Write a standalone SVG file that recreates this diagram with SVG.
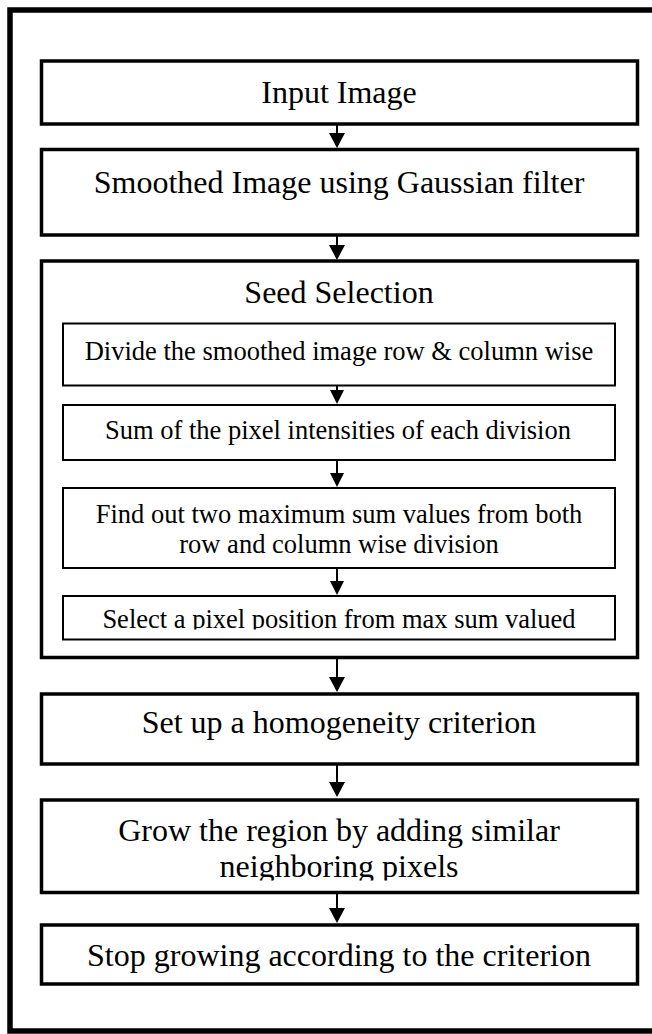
<svg xmlns="http://www.w3.org/2000/svg" width="652" height="1034" viewBox="0 0 652 1034">
<style>
.main{fill:#fff;stroke:#000;stroke-width:3.5}
.inner{fill:#fff;stroke:#000;stroke-width:2}
.t{font-family:"Liberation Serif","Times New Roman",serif;font-size:32px;fill:#000;text-anchor:middle}
.ti{font-family:"Liberation Serif","Times New Roman",serif;font-size:26.5px;fill:#000;text-anchor:middle}
.c{stroke:#000;stroke-width:2;fill:none}
</style>
<defs>
<clipPath id="clipSel"><rect x="63" y="596" width="552" height="33.5"/></clipPath>
<clipPath id="clipGrow"><rect x="41" y="800" width="596" height="80.5"/></clipPath>
</defs>
<rect width="652" height="1034" fill="#fff"/>
<path d="M660,10 H10 V1031 H660" fill="none" stroke="#000" stroke-width="5.5"/>

<g id="n1">
<rect class="main" x="41.5" y="61" width="596" height="63"/>
<text class="t" x="339" y="103">Input Image</text>
</g>
<g id="n2">
<rect class="main" x="41.5" y="149.5" width="596" height="85.5"/>
<text class="t" x="339" y="193">Smoothed Image using Gaussian filter</text>
</g>
<g id="n3">
<rect class="main" x="41.5" y="261" width="596" height="396.5"/>
<text class="t" x="339" y="303">Seed Selection</text>
</g>
<g id="n3a">
<rect class="inner" x="63" y="323.5" width="552" height="62"/>
<text class="ti" x="339" y="360">Divide the smoothed image row &amp; column wise</text>
</g>
<g id="n3b">
<rect class="inner" x="63" y="405" width="552" height="55"/>
<text class="ti" x="338" y="439">Sum of the pixel intensities of each division</text>
</g>
<g id="n3c">
<rect class="inner" x="63" y="488" width="552" height="80"/>
<text class="ti" x="339" y="523">Find out two maximum sum values from both<tspan x="339" dy="30">row and column wise division</tspan></text>
</g>
<g id="n3d">
<rect class="inner" x="63" y="596" width="552" height="43.5"/>
<text class="ti" x="339" y="628" clip-path="url(#clipSel)">Select a pixel position from max sum valued</text>
</g>
<g id="n4">
<rect class="main" x="41.5" y="694" width="596" height="70"/>
<text class="t" x="339" y="733">Set up a homogeneity criterion</text>
</g>
<g id="n5">
<rect class="main" x="41.5" y="800" width="596" height="92.5"/>
<text class="t" x="339" y="841" clip-path="url(#clipGrow)">Grow the region by adding similar<tspan x="339" dy="35.5">neighboring pixels</tspan></text>
</g>
<g id="n6">
<rect class="main" x="41.5" y="925" width="596" height="59"/>
<text class="t" x="339" y="966">Stop growing according to the criterion</text>
</g>

<g id="connectors">
<g fill="#000">
<line class="c" x1="337" y1="124" x2="337" y2="135"/><path d="M329,133 L345,133 L337,148 Z"/>
<line class="c" x1="337" y1="235" x2="337" y2="247"/><path d="M329,245 L345,245 L337,260 Z"/>
<line class="c" x1="337" y1="385.5" x2="337" y2="392"/><path d="M330,390 L344,390 L337,404 Z"/>
<line class="c" x1="337" y1="460" x2="337" y2="475"/><path d="M330,473 L344,473 L337,487 Z"/>
<line class="c" x1="337" y1="568" x2="337" y2="583"/><path d="M330,581 L344,581 L337,595 Z"/>
<line class="c" x1="337" y1="657.5" x2="337" y2="680"/><path d="M329,677 L345,677 L337,692 Z"/>
<line class="c" x1="337" y1="764" x2="337" y2="785"/><path d="M329,782 L345,782 L337,797 Z"/>
<line class="c" x1="337" y1="892.5" x2="337" y2="910"/><path d="M329,908 L345,908 L337,923 Z"/>
</g>
</g>
</svg>
